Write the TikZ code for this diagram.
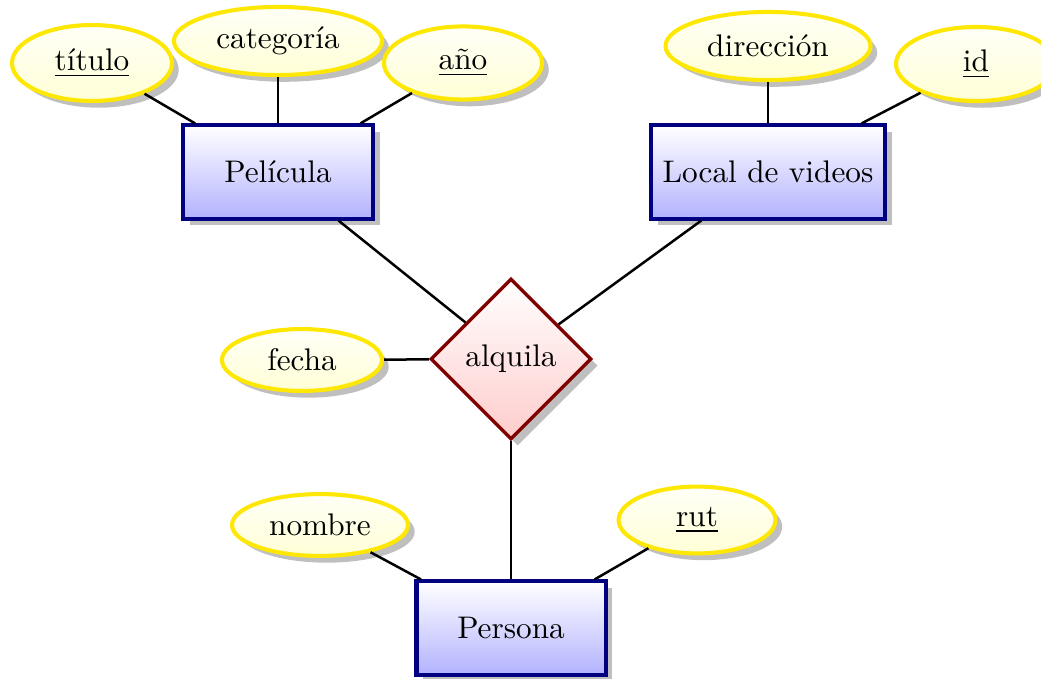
\documentclass[tikz,border=0pt]{standalone}
\usepackage{fontspec}
\usetikzlibrary{shapes.geometric,shadows}
\tikzset{
  entity/.style={rectangle, draw=blue!50!black, line width=1.3pt, top color=white, bottom color=blue!30, drop shadow, inner sep=0pt, minimum height=29.8pt},
  attr/.style={ellipse, draw=yellow!95!red, line width=1.3pt, top color=yellow!3, bottom color=yellow!16, drop shadow, inner sep=0pt},
  rel/.style={diamond, aspect=1, draw=red!50!black, line width=1.1pt, top color=white, bottom color=red!20, drop shadow, inner sep=0pt, minimum size=51.5pt},
  conn/.style={line width=0.8pt, black}
}
\begin{document}
\begin{tikzpicture}[x=0.32pt,y=-0.32pt]
\useasboundingbox (0,0) rectangle (1041,679);
% entities
\node[entity, minimum width=60.8pt] (pel) at (278,172) {Película};
\node[entity, minimum width=74.9pt] (loc) at (768,172) {Local de videos};
\node[entity, minimum width=60.5pt] (per) at (511,628) {Persona};
% relationship
\node[rel] (alq) at (511,359) {alquila};
% attributes
\node[attr, minimum width=51.2pt, minimum height=24.3pt] (tit) at (92,63) {\underline{título}};
\node[attr, minimum width=66.6pt, minimum height=21.8pt] (cat) at (278,41) {categoría};
\node[attr, minimum width=50.6pt, minimum height=23.4pt] (ano) at (463,63) {\underline{año}};
\node[attr, minimum width=65.6pt, minimum height=21.8pt] (dir) at (768,46) {dirección};
\node[attr, minimum width=51.2pt, minimum height=23.7pt] (id) at (976,64) {\underline{id}};
\node[attr, minimum width=51.2pt, minimum height=19.8pt] (fec) at (302,360) {fecha};
\node[attr, minimum width=56.3pt, minimum height=19.8pt] (nom) at (320,525) {nombre};
\node[attr, minimum width=50.2pt, minimum height=21.4pt] (rut) at (697,520) {\underline{rut}};
% connectors
\draw[conn] (tit) -- (pel);
\draw[conn] (cat) -- (pel);
\draw[conn] (ano) -- (pel);
\draw[conn] (dir) -- (loc);
\draw[conn] (id) -- (loc);
\draw[conn] (pel) -- (alq);
\draw[conn] (loc) -- (alq);
\draw[conn] (fec) -- (alq);
\draw[conn] (alq) -- (per);
\draw[conn] (nom) -- (per);
\draw[conn] (rut) -- (per);
\end{tikzpicture}
\end{document}
